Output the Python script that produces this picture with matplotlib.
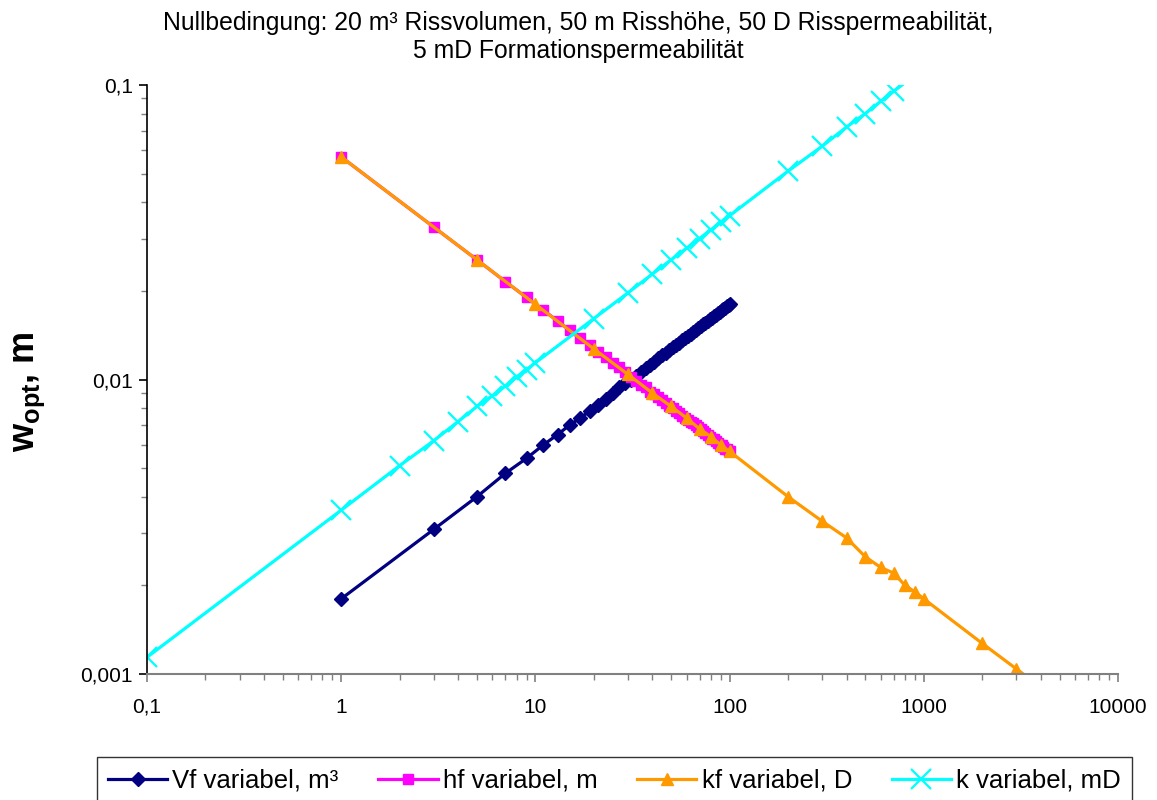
import numpy as np
import matplotlib
matplotlib.use("Agg")
import matplotlib.pyplot as plt
from matplotlib.ticker import LogLocator, FixedLocator, FixedFormatter, NullFormatter

plt.rcParams['font.family'] = ['Liberation Sans', 'DejaVu Sans']
plt.rcParams['mathtext.fontset'] = 'custom'
plt.rcParams['mathtext.rm'] = 'Liberation Sans'
plt.rcParams['mathtext.bf'] = 'Liberation Sans:bold'

# Vf variabel (Rissvolumen, m³)
vf_x = [1, 3, 5, 7, 9, 11, 13, 15, 17, 19, 21, 23, 25, 27, 29, 31, 33, 35, 37, 39,
        41, 43, 45, 47, 49, 51, 53, 55, 57, 59, 61, 63, 65, 67, 69, 71, 73, 75, 77, 79,
        81, 83, 85, 87, 89, 91, 93, 95, 97, 99, 100]
vf_w = [0.0018, 0.0031, 0.0040, 0.0048, 0.0054, 0.0060, 0.0065, 0.0070, 0.0074, 0.0078,
        0.0082, 0.0086, 0.0090, 0.0094, 0.0097, 0.0100, 0.0103, 0.0106, 0.0109, 0.0112,
        0.0115, 0.0118, 0.0121, 0.0123, 0.0126, 0.0129, 0.0131, 0.0133, 0.0136, 0.0138,
        0.0141, 0.0143, 0.0145, 0.0147, 0.0150, 0.0152, 0.0154, 0.0156, 0.0158, 0.0160,
        0.0162, 0.0164, 0.0166, 0.0168, 0.0170, 0.0172, 0.0174, 0.0175, 0.0177, 0.0179,
        0.0180]

# hf variabel (Risshöhe, m)
hf_x = vf_x
hf_w = [0.0570, 0.0329, 0.0255, 0.0215, 0.0190, 0.0172, 0.0158, 0.0147, 0.0138, 0.0131,
        0.0124, 0.0119, 0.0114, 0.0110, 0.0106, 0.0102, 0.0099, 0.0096, 0.0094, 0.0091,
        0.0089, 0.0087, 0.0085, 0.0083, 0.0081, 0.0080, 0.0078, 0.0077, 0.0075, 0.0074,
        0.0073, 0.0072, 0.0071, 0.0070, 0.0069, 0.0068, 0.0067, 0.0066, 0.0065, 0.0064,
        0.0063, 0.0063, 0.0062, 0.0061, 0.0060, 0.0060, 0.0059, 0.0058, 0.0058, 0.0057,
        0.0057]

# kf variabel (Risspermeabilität, D)
kf_x = [1, 5, 10, 20, 30, 40, 50, 60, 70, 80, 90, 100,
        200, 300, 400, 500, 600, 700, 800, 900, 1000, 2000, 3000, 5000]
kf_w = [0.0570, 0.0255, 0.0180, 0.0127, 0.0104, 0.0090, 0.0081, 0.0074, 0.0068, 0.0064,
        0.0060, 0.0057, 0.0040, 0.0033, 0.0029, 0.0025, 0.0023, 0.0022, 0.0020, 0.0019,
        0.0018, 0.00127, 0.00104, 0.00081]

# k variabel (Formationspermeabilität, mD)
k_x = [0.1, 1, 2, 3, 4, 5, 6, 7, 8, 9, 10, 20, 30, 40, 50, 60, 70, 80, 90, 100,
       200, 300, 400, 500, 600, 700, 1000]
k_w = [0.00114, 0.0036, 0.0051, 0.0062, 0.0072, 0.0081, 0.0088, 0.0095, 0.0102, 0.0108,
       0.0114, 0.0161, 0.0197, 0.0228, 0.0255, 0.0279, 0.0301, 0.0322, 0.0342, 0.0360,
       0.0510, 0.0620, 0.0720, 0.0800, 0.0880, 0.0952, 0.1138]

x_ticks = [0.1, 1, 10, 100, 1000, 10000]
x_labels = ['0,1', '1', '10', '100', '1000', '10000']
y_ticks = [0.001, 0.01, 0.1]
y_labels = ['0,001', '0,01', '0,1']

fig = plt.figure(figsize=(11.57, 8), dpi=100)
ax = fig.add_axes([147 / 1157, 126 / 800, 971 / 1157, 589 / 800])

lw = 2.3
ax.plot(vf_x, vf_w, color='#000080', lw=lw, marker='D', ms=7, mec='#000080',
        label='Vf variabel, m³')
ax.plot(hf_x, hf_w, color='#FF00FF', lw=lw, marker='s', ms=7, mec='#FF00FF',
        label='hf variabel, m')
ax.plot(kf_x, kf_w, color='#FF9900', lw=lw, marker='^', ms=9, mec='#FF9900',
        label='kf variabel, D')
ax.plot(k_x, k_w, color='#00FFFF', lw=lw, marker='x', ms=14, mew=1.6,
        label='k variabel, mD')

ax.set_xscale('log')
ax.set_yscale('log')
ax.set_xlim(0.1, 10000)
ax.set_ylim(0.001, 0.1)

ax.xaxis.set_major_locator(FixedLocator(x_ticks))
ax.xaxis.set_major_formatter(FixedFormatter(x_labels))
ax.xaxis.set_minor_locator(LogLocator(base=10, subs=np.arange(2, 10)))
ax.xaxis.set_minor_formatter(NullFormatter())
ax.yaxis.set_major_locator(FixedLocator(y_ticks))
ax.yaxis.set_major_formatter(FixedFormatter(y_labels))
ax.yaxis.set_minor_locator(LogLocator(base=10, subs=np.arange(2, 10)))
ax.yaxis.set_minor_formatter(NullFormatter())

for s in ['top', 'right']:
    ax.spines[s].set_visible(False)
ax.spines['left'].set_color('black')
ax.spines['bottom'].set_color('#808080')
ax.spines['left'].set_linewidth(1.2)
ax.spines['bottom'].set_linewidth(1.5)

ax.tick_params(axis='x', which='both', direction='out', color='#808080',
               labelsize=15, pad=11)
ax.tick_params(axis='x', which='major', length=6, width=1.2)
ax.tick_params(axis='x', which='minor', length=4, width=1)
ax.tick_params(axis='y', which='major', direction='out', color='black',
               length=6, width=1.2, labelsize=15, pad=4)
ax.tick_params(axis='y', which='minor', direction='out', color='#808080',
               length=4, width=1)

ax.set_ylabel(r'$\mathbf{w}_{\mathbf{opt}}$, m', fontsize=26, fontweight='bold')
ax.yaxis.set_label_coords(-0.103, 0.48)

fig.text(0.5, 0.986, 'Nullbedingung: 20 m³ Rissvolumen, 50 m Risshöhe, 50 D Risspermeabilität,\n'
         '5 mD Formationspermeabilität', ha='center', va='top', fontsize=17.8,
         linespacing=1.2)

leg = fig.legend(loc='upper center', bbox_to_anchor=(614.5 / 1157, 1 - 757 / 800),
                 ncol=4, fontsize=18.5, frameon=True, fancybox=False,
                 handlelength=2.3, handletextpad=0.2, borderaxespad=0, borderpad=0.45,
                 columnspacing=1.55)
leg.get_frame().set_edgecolor('black')
leg.get_frame().set_linewidth(1.0)

fig.savefig('out.png', dpi=100)
